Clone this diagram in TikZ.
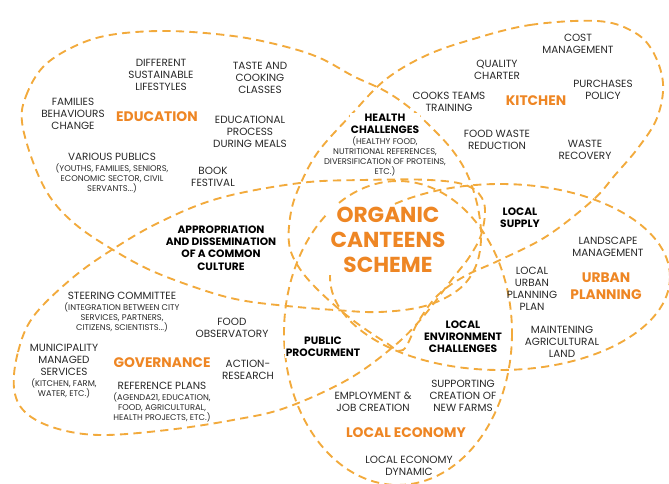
\documentclass[tikz,border=0pt]{standalone}
\usepackage{fontspec}
\setmainfont{Poppins}
\usepackage{tikz}
\usetikzlibrary{positioning}
\definecolor{clrPetal}{RGB}{242,170,60}
\definecolor{clrTitle}{RGB}{238,134,36}
\definecolor{clrText}{RGB}{40,40,40}

\begin{document}
\begin{tikzpicture}[
  x=0.03cm, y=-0.03cm,
  node distance=0pt,
  petal/.style={draw=clrPetal, line width=1.6pt, dash pattern=on 7pt off 4.5pt},
  item/.style={font=\fontsize{8.9}{10.4}\selectfont, text=clrText,
               align=center, inner sep=1pt},
  note/.style={font=\fontsize{7.1}{8.5}\selectfont, text=clrText,
               align=center, inner sep=1pt},
  title/.style={font=\fontsize{11.8}{14}\selectfont\bfseries,
                text=clrTitle, align=center, inner sep=1pt},
  pair/.style={font=\fontsize{9.1}{10.4}\selectfont\bfseries, text=black,
               align=center, fill=white, inner sep=1pt},
  core/.style={font=\fontsize{18.5}{21.5}\selectfont\bfseries,
               text=clrTitle, align=center, fill=white, inner sep=2pt}
]
\useasboundingbox (0,0) rectangle (669,484);

% the five overlapping sets
\draw[petal] plot[smooth cycle, tension=0.6] coordinates {
  (22,122) (26,96) (43,67) (73,47) (110,35) (167,31) (233,36) (283,46)
  (320,58) (353,76) (385,91) (410,108) (432,128) (453,151) (468,176)
  (478,208) (481,240) (475,268) (458,290) (425,306) (380,312) (335,310)
  (287,306) (240,300) (200,289) (150,270) (110,248) (75,224) (50,197)
  (33,162)};
\draw[petal] plot[smooth cycle, tension=0.6] coordinates {
  (470,40) (530,25) (597,21) (632,31) (652,50) (663,83) (657,118)
  (638,148) (615,175) (593,200) (547,236) (500,260) (465,276) (438,295)
  (418,322) (403,350) (385,342) (350,318) (318,290) (298,266) (289,243)
  (291,212) (300,185) (318,152) (350,116) (385,80) (425,56)};
\draw[petal] (500,277) ellipse [x radius=170, y radius=93];
\draw[petal] (398,333) ellipse [x radius=114, y radius=152];
\draw[petal] plot[smooth cycle, tension=0.6] coordinates {
  (14,388) (18,352) (33,317) (70,280) (110,251) (160,222) (220,198)
  (300,183) (363,180) (430,180) (468,186) (484,203) (482,232) (470,256)
  (453,278) (422,318) (393,347) (347,380) (285,408) (233,420) (167,430)
  (100,435) (55,428) (25,412)};

% education
\node[item]  (lifestyles) at (161,75)  {DIFFERENT\\SUSTAINABLE\\LIFESTYLES};
\node[item]  (cooking)    at (260,78)  {TASTE AND\\COOKING\\CLASSES};
\node[item]  (families)   at (73,114)  {FAMILIES\\BEHAVIOURS\\CHANGE};
\node[title] (education)  at (157,117) {EDUCATION};
\node[item]  (meals)      at (250,132) {EDUCATIONAL\\PROCESS\\DURING MEALS};
\node[item]  (publics)    at (112,157) {VARIOUS PUBLICS};
\node[note, below=of publics] (publicsNote)
      {(YOUTHS, FAMILIES, SENIORS,\\ECONOMIC SECTOR, CIVIL\\SERVANTS...)};
\node[item]  (festival)   at (213,177) {BOOK\\FESTIVAL};

% kitchen
\node[item]  (cost)       at (578,44)  {COST\\MANAGEMENT};
\node[item]  (charter)    at (497,70)  {QUALITY\\CHARTER};
\node[item]  (purchases)  at (603,90)  {PURCHASES\\POLICY};
\node[item]  (training)   at (449,102) {COOKS TEAMS\\TRAINING};
\node[title] (kitchen)    at (536,101) {KITCHEN};
\node[item]  (foodwaste)  at (497,140) {FOOD WASTE\\REDUCTION};
\node[item]  (recovery)   at (585,150) {WASTE\\RECOVERY};

% urban planning
\node[item]  (landscape)  at (608,247) {LANDSCAPE\\MANAGEMENT};
\node[title] (urban)      at (606,286) {URBAN\\PLANNING};
\node[item]  (localplan)  at (532,289) {LOCAL\\URBAN\\PLANNING\\PLAN};
\node[item]  (farmland)   at (562,342) {MAINTENING\\AGRICULTURAL\\LAND};

% local economy
\node[item]  (employment) at (373,402) {EMPLOYMENT \&\\JOB CREATION};
\node[item]  (newfarms)   at (463,396) {SUPPORTING\\CREATION OF\\NEW FARMS};
\node[title] (economy)    at (406,433) {LOCAL ECONOMY};
\node[item]  (dynamic)    at (409,466) {LOCAL ECONOMY\\DYNAMIC};

% governance
\node[item]  (steering)   at (122,296) {STEERING COMMITTEE};
\node[note, below=of steering] (steeringNote)
      {(INTEGRATION BETWEEN CITY\\SERVICES, PARTNERS,\\CITIZENS, SCIENTISTS...)};
\node[item]  (observatory) at (232,328) {FOOD\\OBSERVATORY};
\node[item]  (municipal)  at (64,360)  {MUNICIPALITY\\MANAGED\\SERVICES};
\node[note, below=of municipal] (municipalNote) {(KITCHEN, FARM,\\WATER, ETC.)};
\node[title] (governance) at (162,363) {GOVERNANCE};
\node[item]  (action)     at (248,370) {ACTION-\\RESEARCH};
\node[item]  (plans)      at (162,386) {REFERENCE PLANS};
\node[note, below=of plans] (plansNote)
      {(AGENDA21, EDUCATION,\\FOOD, AGRICULTURAL,\\HEALTH PROJECTS, ETC.)};

% overlaps
\node[pair]  (health)     at (385,124) {HEALTH\\CHALLENGES};
\node[note, below=of health] (healthNote)
      {(HEALTHY FOOD,\\NUTRITIONAL REFERENCES,\\DIVERSIFICATION OF PROTEINS,\\ETC.)};
\node[pair]  (supply)     at (520,218) {LOCAL\\SUPPLY};
\node[pair]  (environment) at (463,337) {LOCAL\\ENVIRONMENT\\CHALLENGES};
\node[pair]  (procurment) at (323,347) {PUBLIC\\PROCURMENT};
\node[pair]  (culture)    at (221,248)
      {APPROPRIATION\\AND DISSEMINATION\\OF A COMMON\\CULTURE};

\node[core]  (scheme)     at (388,240) {ORGANIC\\CANTEENS\\SCHEME};
\end{tikzpicture}
\end{document}
